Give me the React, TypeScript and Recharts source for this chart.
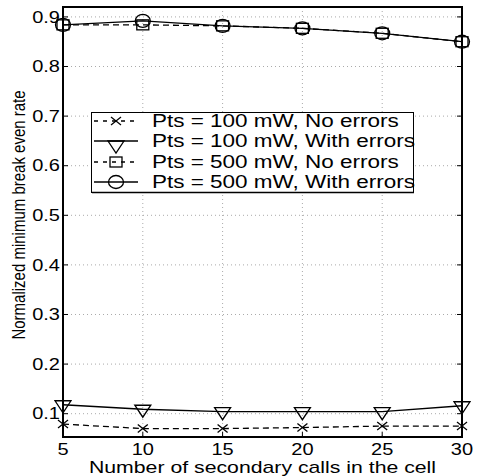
import React from "react"
import { LineChart, Line, XAxis, YAxis, CartesianGrid, Legend, ReferenceArea } from "recharts"

// the source figure is stretched horizontally, text follows that
const SX = 1.25
const FONT = "'Liberation Sans', Arial, Helvetica, sans-serif"

const calls = [5, 10, 15, 20, 25, 30]
const p100NoErr = [0.079, 0.07, 0.07, 0.072, 0.075, 0.075]
const p100Err = [0.118, 0.109, 0.104, 0.104, 0.104, 0.116]
const p500NoErr = [0.884, 0.884, 0.882, 0.877, 0.867, 0.85]
const p500Err = [0.884, 0.892, 0.882, 0.877, 0.867, 0.85]

const xTicks = [5, 10, 15, 20, 25, 30]
const yTicks = [0.1, 0.2, 0.3, 0.4, 0.5, 0.6, 0.7, 0.8, 0.9]
const xDomain = [5, 30]
const yDomain = [0.053, 0.92]

type Marker = "x" | "tri" | "sq" | "circ"

interface SeriesConfig {
  key: string
  name: string
  dashed: boolean
  marker: Marker
}

const series: SeriesConfig[] = [
  { key: "p100NoErr", name: "Pts = 100 mW, No errors", dashed: true, marker: "x" },
  { key: "p100Err", name: "Pts = 100 mW, With errors", dashed: false, marker: "tri" },
  { key: "p500NoErr", name: "Pts = 500 mW, No errors", dashed: true, marker: "sq" },
  { key: "p500Err", name: "Pts = 500 mW, With errors", dashed: false, marker: "circ" },
]

const data = calls.map((x, i) => ({
  x,
  p100NoErr: p100NoErr[i],
  p100Err: p100Err[i],
  p500NoErr: p500NoErr[i],
  p500Err: p500Err[i],
}))

function MarkerShape({ type, cx, cy }: { type: Marker; cx: number; cy: number }) {
  const common = { stroke: "#000", strokeWidth: 1.3, fill: "none" }
  if (type === "x") {
    return (
      <g {...common}>
        <line x1={cx - 5} y1={cy - 4} x2={cx + 5} y2={cy + 4} />
        <line x1={cx - 5} y1={cy + 4} x2={cx + 5} y2={cy - 4} />
      </g>
    )
  }
  if (type === "tri") {
    return <polygon {...common} points={`${cx - 8},${cy - 4} ${cx + 8},${cy - 4} ${cx},${cy + 8}`} />
  }
  if (type === "sq") {
    return <rect {...common} x={cx - 6} y={cy - 5} width={12} height={10} />
  }
  return <ellipse {...common} cx={cx} cy={cy} rx={7.5} ry={6.5} />
}

const YTick = (props: any) => {
  const { x, y, payload } = props
  return (
    <g transform={`translate(${x},${y}) scale(${SX},1)`}>
      <text textAnchor="end" dy="0.36em" fontSize={16} fontFamily={FONT} fill="#000">
        {payload.value}
      </text>
    </g>
  )
}

const XTick = (props: any) => {
  const { x, y, payload } = props
  return (
    <g transform={`translate(${x},${y}) scale(${SX},1)`}>
      <text textAnchor="middle" dy="0.71em" fontSize={16} fontFamily={FONT} fill="#000">
        {payload.value}
      </text>
    </g>
  )
}

const XTitle = (props: any) => {
  const { x, y, width, height } = props.viewBox
  return (
    <g transform={`translate(${x + width / 2},${y + height - 3}) scale(${SX},1)`}>
      <text textAnchor="middle" fontSize={17} fontFamily={FONT} fill="#000">
        Number of secondary calls in the cell
      </text>
    </g>
  )
}

const YTitle = (props: any) => {
  const { y, height } = props.viewBox
  return (
    <g transform={`translate(25,${y + height / 2 - 7}) scale(${SX},1) rotate(-90)`}>
      <text textAnchor="middle" fontSize={15} fontFamily={FONT} fill="#000">
        Normalized minimum break even rate
      </text>
    </g>
  )
}

const LegendBox = () => {
  const rows = [9, 29, 50, 70]
  return (
    <svg width={324} height={82} style={{ display: "block" }}>
      <rect x={0.5} y={0.5} width={322} height={80} fill="#fff" stroke="#000" strokeWidth={1} />
      <line x1={1} y1={80.5} x2={323} y2={80.5} stroke="#000" strokeWidth={1.5} />
      {series.map((s, i) => (
        <g key={s.key}>
          <line
            x1={3}
            y1={rows[i]}
            x2={47}
            y2={rows[i]}
            stroke="#000"
            strokeWidth={1.3}
            strokeDasharray={s.dashed ? "4 5" : undefined}
          />
          <MarkerShape type={s.marker} cx={25} cy={rows[i] + (s.marker === "tri" ? 4 : 0)} />
          <g transform={`translate(61,${rows[i]}) scale(${SX},1)`}>
            <text dy="0.36em" fontSize={18} fontFamily={FONT} fill="#000">
              {s.name}
            </text>
          </g>
        </g>
      ))}
    </svg>
  )
}

const axisLine = { stroke: "#000", strokeWidth: 2 }
const tickLine = { stroke: "#000", strokeWidth: 1 }

export default function App() {
  return (
    <div style={{ position: "absolute", left: 0, top: 0, background: "#fff" }}>
      <LineChart width={478} height={476} data={data} margin={{ top: 6, right: 15, left: 0, bottom: 0 }}>
        <CartesianGrid stroke="#aaa" strokeDasharray="1 3" />
        <XAxis
          dataKey="x"
          type="number"
          domain={xDomain}
          ticks={xTicks}
          height={39}
          stroke="#000"
          axisLine={axisLine}
          tickLine={tickLine}
          tickSize={-5}
          tickMargin={12}
          tick={<XTick />}
          label={{ value: "Number of secondary calls in the cell", content: <XTitle /> }}
        />
        <XAxis
          xAxisId="top"
          orientation="top"
          type="number"
          domain={xDomain}
          ticks={xTicks}
          height={1}
          stroke="#000"
          axisLine={axisLine}
          tickLine={tickLine}
          tickSize={-5}
          tick={() => <g />}
        />
        <YAxis
          type="number"
          domain={yDomain}
          ticks={yTicks}
          allowDataOverflow
          width={63}
          stroke="#000"
          axisLine={axisLine}
          tickLine={tickLine}
          tickSize={-5}
          tickMargin={8}
          tick={<YTick />}
          label={{ value: "Normalized minimum break even rate", content: <YTitle /> }}
        />
        <YAxis
          yAxisId="right"
          orientation="right"
          type="number"
          domain={yDomain}
          ticks={yTicks}
          allowDataOverflow
          width={1}
          stroke="#000"
          axisLine={axisLine}
          tickLine={tickLine}
          tickSize={-5}
          tick={() => <g />}
        />
        <ReferenceArea
          x1={xDomain[0]}
          x2={xDomain[1]}
          y1={yDomain[0]}
          y2={yDomain[1]}
          fill="none"
          fillOpacity={0}
          stroke="#000"
          strokeWidth={2}
          ifOverflow="visible"
        />
        <Legend
          layout="vertical"
          align="center"
          verticalAlign="middle"
          content={<LegendBox />}
          wrapperStyle={{ left: 91, top: 112, width: 324, height: 82 }}
        />
        {series.map((s) => (
          <Line
            key={s.key}
            dataKey={s.key}
            name={s.name}
            type="linear"
            stroke="#000"
            strokeWidth={1.3}
            strokeDasharray={s.dashed ? "6 4" : undefined}
            dot={(p: any) => <MarkerShape key={`${s.key}-${p.index}`} type={s.marker} cx={p.cx} cy={p.cy} />}
            activeDot={false}
            isAnimationActive={false}
          />
        ))}
      </LineChart>
    </div>
  )
}
